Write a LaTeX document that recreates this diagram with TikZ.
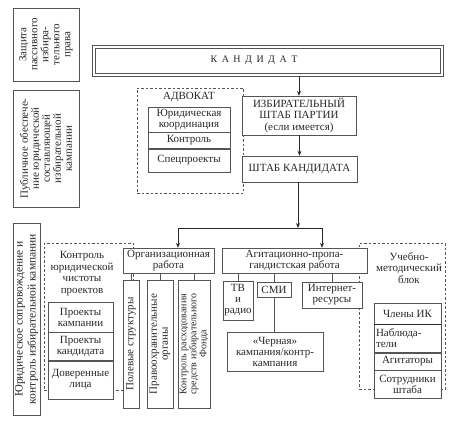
\documentclass[tikz,border=0pt]{standalone}
\usepackage{fontspec}
\setmainfont{Liberation Serif}
\usetikzlibrary{arrows.meta, positioning}
\definecolor{inkgray}{RGB}{40,40,40}
\definecolor{linegray}{RGB}{85,85,85}

\begin{document}
\begin{tikzpicture}[
        x=1pt, y=-1pt,
        box/.style={rectangle, draw=linegray, fill=white, inner sep=1pt, align=center, text=inkgray, font=\fontsize{11}{11}\selectfont},
        side/.style={box, rotate=90},
        zone/.style={rectangle, draw=linegray, dash pattern=on 2.5pt off 2pt},
        zonetext/.style={align=center, text=inkgray, inner sep=0pt, font=\fontsize{11}{11.5}\selectfont},
        arrow/.style={-{Stealth[length=5pt, width=4pt]}, thick, inkgray},
        link/.style={draw=linegray}
    ]
    \useasboundingbox (0,0) rectangle (461,428);

    % Side blocks
    \node[side, minimum width=73, minimum height=66] (protect) at (46,44.5) {Защита\\пассивного\\избира-\\тельного\\права};
    \node[side, minimum width=117, minimum height=66] (public) at (46,148.5) {Публичное обеспече-\\ние юридической\\составляющей\\избирательной\\кампании};
    \node[side, minimum width=192, minimum height=27, font=\fontsize{11.5}{13}\selectfont] (legal) at (26.5,319) {Юридическое сопровождение и\\контроль избирательной кампании};

    % Dashed zones
    \node[zone, minimum width=106, minimum height=105] (advzone) at (190,140.5) {};
    \node[zone, minimum width=89, minimum height=147] (purezone) at (88.5,316.5) {};
    \node[zone, minimum width=86, minimum height=146] (eduzone) at (402,316) {};

    % Candidate and headquarters
    \node[box, minimum width=351, minimum height=31, font=\fontsize{10}{11}\selectfont] (cand) at (267.5,60.5) {\hspace*{-27pt}К\hspace{4.5pt}А\hspace{4.5pt}Н\hspace{4.5pt}Д\hspace{4.5pt}И\hspace{4.5pt}Д\hspace{4.5pt}А\hspace{4.5pt}Т};
    \draw[linegray] ([shift={(3,3)}]cand.north west) rectangle ([shift={(-3,-3)}]cand.south east);
    \node[box, minimum width=114, minimum height=39, font=\fontsize{11}{11.5}\selectfont] (izb) at (299,115.5) {ИЗБИРАТЕЛЬНЫЙ\\ШТАБ ПАРТИИ\\(если имеется)};
    \node[box, minimum width=115, minimum height=26, font=\fontsize{11}{11.5}\selectfont] (shtab) at (299.5,169) {ШТАБ КАНДИДАТА};

    % Advocate
    \node[zonetext] (advtitle) at (189,97) {АДВОКАТ};
    \node[box, minimum width=82, minimum height=25] (adv1) at (189,119.5) {Юридическая\\координация};
    \node[box, minimum width=82, minimum height=16, below=0pt of adv1] (adv2) {Контроль};
    \node[box, minimum width=82, minimum height=23, below=0pt of adv2] (adv3) {Спецпроекты};

    % Work directions
    \node[box, minimum width=91, minimum height=25] (org) at (168.5,260.5) {Организационная\\работа};
    \node[box, minimum width=145, minimum height=25] (agit) at (294.5,260.5) {Агитационно-пропа-\\гандистская работа};

    \node[side, minimum width=128, minimum height=16] (col1) at (131,344) {Полевые структуры};
    \node[side, minimum width=128, minimum height=26] (col2) at (160,344) {Правоохранительные\\органы};
    \node[side, minimum width=128, minimum height=32, font=\fontsize{10}{10}\selectfont] (col3) at (194,344) {Контроль расходования\\средств избирательного\\Фонда};

    \node[box, minimum width=30, minimum height=39] (tv) at (238,300.5) {ТВ\\и\\радио};
    \node[box, minimum width=34, minimum height=15] (smi) at (274,289.5) {СМИ};
    \node[box, minimum width=60, minimum height=26] (inet) at (332,295) {Интернет-\\ресурсы};
    \node[box, minimum width=96, minimum height=39] (black) at (275,351.5) {«Черная»\\кампания/контр-\\кампания};

    % Legal purity
    \node[zonetext] (puretitle) at (82,273.5) {Контроль\\юридической\\чистоты\\проектов};
    \node[box, minimum width=65, minimum height=30] (proj1) at (80.5,317) {Проекты\\кампании};
    \node[box, minimum width=65, minimum height=28, below=0pt of proj1] (proj2) {Проекты\\кандидата};
    \node[box, minimum width=65, minimum height=38, below=0pt of proj2] (proj3) {Доверенные\\лица};

    % Training block
    \node[zonetext] (edutitle) at (409,268) {Учебно-\\методический\\блок};
    \node[box, minimum width=67, minimum height=21] (edu1) at (407.5,313.5) {Члены ИК};
    \node[box, minimum width=67, minimum height=28, below=0pt of edu1, align=left, text width=63] (edu2) {Наблюда-\\тели};
    \node[box, minimum width=67, minimum height=17, below=0pt of edu2] (edu3) {Агитаторы};
    \node[box, minimum width=67, minimum height=28, below=0pt of edu3] (edu4) {Сотрудники\\штаба};
    \draw[thick, inkgray] (edu1.south west) -- (edu1.south east);

    % Arrows
    \coordinate (fork) at (298,228);
    \coordinate (forkL) at (178,228);
    \coordinate (forkR) at (322,228);
    \draw[arrow] (cand.south -| izb.north) -- (izb.north);
    \draw[arrow] (izb.south -| shtab.north) -- (shtab.north);
    \draw[arrow] (shtab.south -| fork) -- (fork);
    \draw[arrow, {Stealth[length=5pt, width=4pt]}-{Stealth[length=5pt, width=4pt]}] (org.north -| forkL) -- (forkL) -- (forkR) -- (agit.north -| forkR);

    % Links
    \draw[link] (org.south -| col1.east) -- (col1.east);
    \draw[link] (org.south -| col2.east) -- (col2.east);
    \draw[link] (org.south -| col3.east) -- (col3.east);
    \draw[link] (agit.south -| tv.north) -- (tv.north);
    \draw[link] (agit.south -| smi.north) -- (smi.north);
    \draw[link] (agit.south -| inet.north) -- (inet.north);
    \draw[link] (smi.south) -- (smi.south |- black.north);
\end{tikzpicture}
\end{document}
